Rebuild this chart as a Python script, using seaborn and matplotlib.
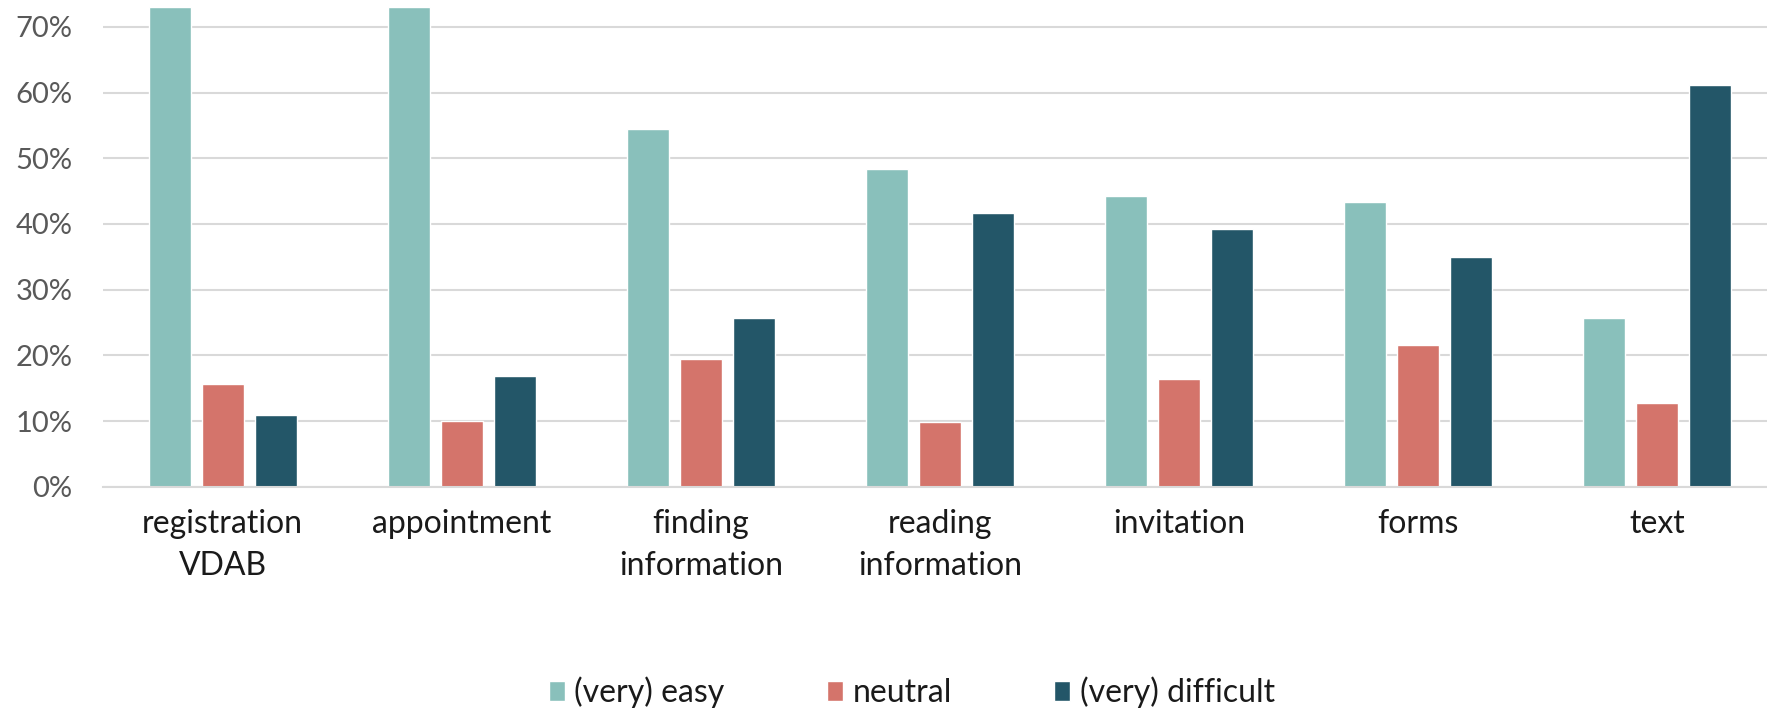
import matplotlib
matplotlib.use("Agg")
import matplotlib.pyplot as plt
import seaborn as sns
import pandas as pd
from matplotlib.ticker import PercentFormatter

categories = ["registration\nVDAB", "appointment", "finding\ninformation",
              "reading\ninformation", "invitation", "forms", "text"]
series_names = ["(very) easy", "neutral", "(very) difficult"]
easy = [73.0, 73.0, 54.5, 48.3, 44.2, 43.3, 25.7]
neutral = [15.7, 10.0, 19.5, 9.9, 16.4, 21.6, 12.8]
difficult = [10.9, 16.9, 25.7, 41.7, 39.2, 35.0, 61.1]
y_ticks = [0, 10, 20, 30, 40, 50, 60, 70]
colors = ["#89C0BB", "#D4746B", "#235668"]

rows = []
for name, vals in zip(series_names, [easy, neutral, difficult]):
    for c, v in zip(categories, vals):
        rows.append({"category": c, "series": name, "value": v})
df = pd.DataFrame(rows)

sns.set_theme(style="white")
plt.rcParams["font.family"] = ["Lato", "DejaVu Sans"]

fig = plt.figure(figsize=(17.67, 7.10), dpi=100)
ax = fig.add_axes([103 / 1767, 1 - 486.7 / 710, (1777 - 103) / 1767, 486.7 / 710])

sns.barplot(data=df, x="category", y="value", hue="series", order=categories,
            hue_order=series_names, palette=colors, width=0.665, gap=0.21,
            saturation=1, ax=ax, legend=True)

ax.set_xlim(-0.5, 6.5)
ax.set_ylim(0, 74.1)
ax.set_yticks(y_ticks)
ax.yaxis.set_major_formatter(PercentFormatter(decimals=0))
ax.grid(axis="y", color="#D9D9D9", linewidth=1.5)
ax.set_axisbelow(True)
for s in ["top", "right", "left"]:
    ax.spines[s].set_visible(False)
ax.spines["bottom"].set_color("#D9D9D9")
ax.spines["bottom"].set_linewidth(1.5)
ax.set_xlabel("")
ax.set_ylabel("")
ax.tick_params(axis="y", length=0, pad=22, labelsize=21, labelcolor="#595959")
ax.tick_params(axis="x", length=0, pad=16, labelsize=23, labelcolor="#1a1a1a")
for lbl in ax.get_xticklabels():
    lbl.set_linespacing(1.5)

leg = ax.get_legend()
leg.remove()
handles, labels = ax.get_legend_handles_labels()
fig.legend(handles, labels, loc="center", bbox_to_anchor=(0.516, 0.025),
           ncol=3, frameon=False, fontsize=23, handlelength=0.5,
           handleheight=0.6, handletextpad=0.3, columnspacing=3.2,
           labelcolor="#1a1a1a")

fig.savefig("out.png", dpi=100)
